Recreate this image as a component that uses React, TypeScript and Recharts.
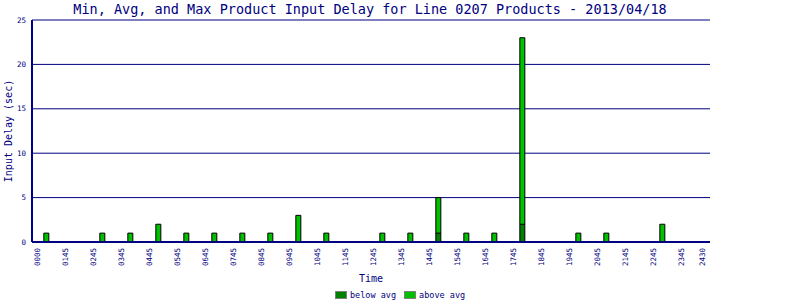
import { BarChart, Bar, XAxis, YAxis, CartesianGrid } from "recharts";

const NAVY = "#000080";
const MONO = "'DejaVu Sans Mono', monospace";

// time slot (HHMM) and delay split into below/above average parts
const slots = ["0015", "0215", "0315", "0415", "0515", "0615", "0715", "0815", "0915", "1015",
  "1215", "1315", "1415", "1515", "1615", "1715", "1915", "2015", "2215"];
const belowAvg = [0, 0, 0, 0, 0, 0, 0, 0, 0, 0, 0, 0, 1, 0, 0, 2, 0, 0, 0];
const aboveAvg = [1, 1, 1, 2, 1, 1, 1, 1, 3, 1, 1, 1, 4, 1, 1, 21, 1, 1, 2];

const tickLabels = ["0000", "0145", "0245", "0345", "0445", "0545", "0645", "0745", "0845", "0945",
  "1045", "1145", "1245", "1345", "1445", "1545", "1645", "1745", "1845", "1945",
  "2045", "2145", "2245", "2345", "2430"];
const tickPos = [...tickLabels.slice(0, 24).map((_, i) => i), 23.75];
const yTicks = [0, 5, 10, 15, 20, 25];

const toHours = (s: string) => Number(s.slice(0, 2)) + Number(s.slice(2)) / 60 + 0.03;

const data = slots.map((s, i) => ({ t: toHours(s), below: belowAvg[i], above: aboveAvg[i] }));

const XTick = ({ x, payload }: { x?: number; y?: number; payload?: { value: number } }) => {
  const idx = tickPos.indexOf(payload?.value as number);
  const ty = 248;
  return (
    <text x={x} y={ty} transform={`rotate(-90, ${x}, ${ty})`} textAnchor="end"
      dominantBaseline="central" fontSize={7.5} fontFamily={MONO} fill={NAVY}>
      {tickLabels[idx]}
    </text>
  );
};

const Swatch = ({ color, label }: { color: string; label: string }) => (
  <span style={{ display: "inline-flex", alignItems: "center", marginRight: 8 }}>
    <span style={{ width: 10, height: 6, background: color, border: "1px solid #808080", marginRight: 3 }} />
    <span>{label}</span>
  </span>
);

export default function App() {
  return (
    <div style={{ position: "absolute", left: 0, top: 0, width: 800, height: 300, background: "#fff" }}>
      <div style={{ position: "absolute", left: 0, top: 1, width: 740, textAlign: "center",
        fontFamily: MONO, fontSize: 13.5, lineHeight: "17px", color: NAVY }}>
        Min, Avg, and Max Product Input Delay for Line 0207 Products - 2013/04/18
      </div>
      <BarChart width={800} height={300} data={data}
        margin={{ top: 20, right: 90, bottom: 0, left: 0 }}>
        <CartesianGrid vertical={false} stroke={NAVY} strokeWidth={1} />
        <XAxis dataKey="t" type="number" domain={[-0.214, 24]} ticks={tickPos}
          interval={0} allowDataOverflow tick={<XTick />} tickLine={false}
          axisLine={{ stroke: NAVY, strokeWidth: 2 }} height={58}
          label={{ value: "Time", position: "insideBottom", offset: 18, fill: NAVY, fontSize: 10, fontFamily: MONO }} />
        <YAxis domain={[0, 25]} ticks={yTicks} width={32} tickLine={false} tickSize={4}
          axisLine={{ stroke: NAVY, strokeWidth: 2 }}
          tick={{ fontSize: 7.5, fontFamily: MONO, fill: NAVY }}
          label={{ value: "Input Delay (sec)", angle: -90, position: "insideLeft", offset: 8,
            style: { textAnchor: "middle" }, fill: NAVY, fontSize: 10, fontFamily: MONO }} />
        <YAxis yAxisId="r" orientation="right" width={0} tick={false} tickLine={false}
          axisLine={{ stroke: NAVY, strokeWidth: 2 }} />
        <Bar dataKey="below" stackId="a" fill="#008000" stroke="#000" strokeWidth={1}
          barSize={5} isAnimationActive={false} />
        <Bar dataKey="above" stackId="a" fill="#00c000" stroke="#000" strokeWidth={1}
          barSize={5} isAnimationActive={false} />
      </BarChart>
      <div style={{ position: "absolute", left: 335, top: 290, fontFamily: MONO, fontSize: 8.5,
        color: NAVY, display: "flex", whiteSpace: "nowrap" }}>
        <Swatch color="#008000" label="below avg" />
        <Swatch color="#00c000" label="above avg" />
      </div>
    </div>
  );
}
